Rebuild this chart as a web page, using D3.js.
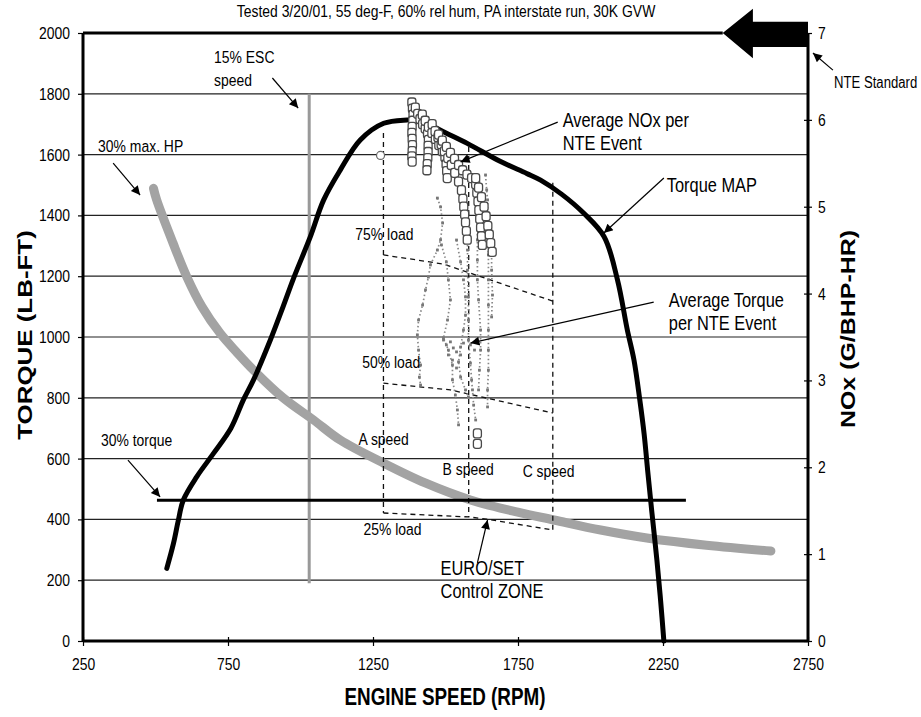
<!DOCTYPE html>
<html>
<head>
<meta charset="utf-8">
<script src="https://cdn.jsdelivr.net/npm/d3@7"></script>
<style>
  body { margin: 0; background: #fff; }
  svg { display: block; }
</style>
</head>
<body>
<div id="chart"></div>
<script>
// axis ticks
var rpmTicks = [250, 750, 1250, 1750, 2250, 2750];
var torqueTicks = [0, 200, 400, 600, 800, 1000, 1200, 1400, 1600, 1800, 2000];
var noxTicks = [0, 1, 2, 3, 4, 5, 6, 7];
var gridTicks = [200, 400, 600, 800, 1000, 1200, 1400, 1600, 1800];

// torque map [rpm, lb-ft]
var torqueMap = [[539,239],[562,321],[579,398],[596,464],[642,540],[700,617],[760,700],[803,793],
  [838,859],[896,990],[940,1100],[976,1193],[1034,1330],[1080,1451],[1137,1549],[1206,1648],
  [1287,1703],[1368,1714],[1402,1714],[1436,1703],[1500,1672],[1575,1637],[1690,1577],[1780,1538],
  [1828,1516],[1900,1470],[1977,1407],[2047,1330],[2093,1188],[2127,1023],[2150,924],[2170,793],
  [2185,680],[2197,562],[2212,420],[2229,266],[2242,130],[2253,0]];

// 30% max HP curve [rpm, lb-ft]
var hp30 = [[493,1489],[504,1451],[560,1310],[608,1198],[660,1100],[723,1012],[780,950],[838,891],
  [940,800],[1045,727],[1137,661],[1287,585],[1430,520],[1586,464],[1730,428],[1874,398],
  [2035,365],[2200,338],[2400,315],[2622,296]];

// reference lines
var escSpeed = 1030, escTorque = [190, 1800];
var torque30 = 463, torque30Rpm = [505, 2329];
var speeds = [1286, 1580, 1870];          // A, B, C speed
var speedTop = [1671, 1625, 1507];
var speedBottom = [421, 408, 365];
var load75 = [[1286,1270],[1493,1240],[1870,1118]];
var load50 = [[1286,848],[1517,826],[1642,799],[1870,750]];
var load25 = [[1286,421],[1580,408],[1642,401],[1870,365]];

// average NOx per NTE event [rpm, g/bhp-hr]
var noxS1 = [[1384,6.20],[1386,6.13],[1388,6.06],[1387,5.99],[1385,5.92],[1384,5.85],[1385,5.78],[1386,5.71],[1385,5.64],[1384,5.58],[1385,5.52]];
var noxS2 = [[1396,6.14],[1404,6.07],[1412,6.01],[1421,5.95],[1430,5.90],[1438,5.84],[1441,5.77],[1440,5.70],[1440,5.63],[1439,5.56],[1437,5.49],[1436,5.42]];
var noxS3 = [[1420,6.06],[1430,5.99],[1441,5.92],[1453,5.85],[1465,5.78],[1477,5.71],[1489,5.64],[1498,5.57],[1502,5.49],[1504,5.41],[1506,5.33]];
var noxS4 = [[1454,5.95],[1464,5.87],[1474,5.80],[1485,5.72],[1496,5.64],[1508,5.56],[1520,5.48],[1532,5.39],[1545,5.29],[1555,5.19],[1560,5.09],[1563,5.00],[1566,4.91],[1569,4.82],[1572,4.72],[1575,4.62]];
var noxS5 = [[1476,5.83],[1489,5.76],[1503,5.69],[1517,5.62],[1531,5.55],[1545,5.48],[1559,5.42],[1574,5.37],[1590,5.33],[1604,5.26],[1608,5.16],[1612,5.06],[1615,4.96],[1618,4.86],[1621,4.76],[1624,4.66],[1627,4.56]];
var noxS6 = [[1604,5.33],[1614,5.22],[1624,5.11],[1633,5.00],[1640,4.89],[1646,4.78],[1651,4.68],[1656,4.58],[1661,4.48]];
var noxLow = [[1610,2.39],[1610,2.27]];
var noxCircle = [[1276,5.59]];

// average torque per NTE event [rpm, lb-ft]
var tq1 = [[1472,1457],[1483,1428],[1490,1375],[1483,1320],[1472,1286],[1448,1237],[1441,1197],[1431,1155],[1421,1105],[1407,1056],[1403,1007],[1407,957],[1414,908],[1410,868],[1414,842]];
var tq2 = [[1486,1303],[1503,1247],[1510,1188],[1517,1122],[1507,1056],[1493,997],[1510,957],[1524,908],[1524,859],[1534,809],[1541,760],[1545,711]];
var tq3 = [[1538,1319],[1552,1247],[1562,1188],[1569,1132],[1569,1072],[1562,1023],[1552,967],[1545,918],[1552,868],[1569,826],[1579,803]];
var tq4 = [[1576,1342],[1576,1286],[1576,1220],[1579,1132],[1579,1056],[1579,990],[1586,914],[1590,859],[1593,826],[1597,776],[1604,727]];
var tq5 = [[1610,1378],[1610,1319],[1610,1253],[1610,1188],[1614,1122],[1621,1023],[1621,957],[1617,891],[1614,826]];
var tq6 = [[1638,1533],[1642,1484],[1645,1451],[1645,1352],[1648,1270],[1648,1188],[1648,1105],[1648,1023],[1648,957],[1648,891],[1645,826],[1645,770]];
var tq7 = [[1659,1286],[1659,1220],[1662,1138],[1659,1066]];
var tq8 = [[1493,990],[1503,974],[1517,984],[1527,964],[1538,951],[1510,941],[1524,924],[1538,898],[1552,941],[1562,980],[1586,974],[1600,957],[1607,990]];

var W = 921, H = 717;
var FONT = "'Liberation Sans',Arial,sans-serif";

var svg = d3.select('#chart').append('svg').attr('width', W).attr('height', H);

var x = d3.scaleLinear().domain([250, 2750]).range([83, 808]);
var yT = d3.scaleLinear().domain([0, 2000]).range([641, 33]);
var yN = d3.scaleLinear().domain([0, 7]).range([641, 33]);

// squeeze text sideways, the scan is narrow
function narrow(sel) {
  sel.each(function() {
    var t = d3.select(this);
    var tx = +t.attr('x') || 0, ty = +t.attr('y') || 0;
    t.attr('x', null).attr('y', null)
      .attr('transform', 'translate(' + tx + ',' + ty + ') scale(0.82,1)');
  });
}

var defs = svg.append('defs');
defs.append('marker').attr('id', 'ah')
  .attr('viewBox', '0 0 10 10').attr('refX', 10).attr('refY', 5)
  .attr('markerWidth', 12).attr('markerHeight', 9)
  .attr('markerUnits', 'userSpaceOnUse').attr('orient', 'auto')
  .append('path').attr('d', 'M0,0L10,5L0,10z').attr('fill', '#000');

// gridlines
svg.append('g').selectAll('line').data(gridTicks).enter().append('line')
  .attr('x1', x(250)).attr('x2', x(2750))
  .attr('y1', function(d) { return yT(d); }).attr('y2', function(d) { return yT(d); })
  .attr('stroke', '#222').attr('stroke-width', 1.2);

var lineT = d3.line().x(function(d) { return x(d[0]); }).y(function(d) { return yT(d[1]); });
var smoothT = d3.line().curve(d3.curveCatmullRom).x(function(d) { return x(d[0]); }).y(function(d) { return yT(d[1]); });

// 15% ESC speed
svg.append('line').attr('x1', x(escSpeed)).attr('x2', x(escSpeed))
  .attr('y1', yT(escTorque[0])).attr('y2', yT(escTorque[1]))
  .attr('stroke', '#999').attr('stroke-width', 3);

// 30% max HP
svg.append('path').attr('d', smoothT(hp30))
  .attr('fill', 'none').attr('stroke', '#a3a3a3').attr('stroke-width', 9).attr('stroke-linecap', 'round');

// NTE zone dashed lines
var zone = svg.append('g').attr('fill', 'none').attr('stroke', '#111')
  .attr('stroke-width', 1.3).attr('stroke-dasharray', '5,4');
speeds.forEach(function(s, i) {
  zone.append('line').attr('x1', x(s)).attr('x2', x(s))
    .attr('y1', yT(speedTop[i])).attr('y2', yT(speedBottom[i]));
});
[load75, load50, load25].forEach(function(l) { zone.append('path').attr('d', lineT(l)); });

// 30% torque
svg.append('line').attr('x1', x(torque30Rpm[0])).attr('x2', x(torque30Rpm[1]))
  .attr('y1', yT(torque30)).attr('y2', yT(torque30))
  .attr('stroke', '#000').attr('stroke-width', 3);

// torque map
svg.append('path').attr('d', smoothT(torqueMap))
  .attr('fill', 'none').attr('stroke', '#000').attr('stroke-width', 5).attr('stroke-linecap', 'round');

// average torque tracks (small grey dots)
var tracks = [tq1, tq2, tq3, tq4, tq5, tq6, tq7];
var tg = svg.append('g');
tracks.forEach(function(t) {
  tg.append('path').attr('d', lineT(t)).attr('fill', 'none')
    .attr('stroke', '#888').attr('stroke-width', 1.7).attr('stroke-dasharray', '1.5,2.5');
});
tg.selectAll('rect').data(d3.merge(tracks.concat([tq8]))).enter().append('rect')
  .attr('x', function(d) { return x(d[0]) - 1.4; }).attr('y', function(d) { return yT(d[1]) - 1.4; })
  .attr('width', 2.8).attr('height', 2.8).attr('fill', '#777');

// average NOx squares
var noxAll = d3.merge([noxS1, noxS2, noxS3, noxS4, noxS5, noxS6, noxLow]);
svg.append('g').selectAll('rect').data(noxAll).enter().append('rect')
  .attr('x', function(d) { return x(d[0]) - 4; }).attr('y', function(d) { return yN(d[1]) - 4.5; })
  .attr('width', 8).attr('height', 9).attr('rx', 2.5)
  .attr('fill', '#fff').attr('stroke', '#4a4a4a').attr('stroke-width', 1.3);
svg.append('g').selectAll('circle').data(noxCircle).enter().append('circle')
  .attr('cx', function(d) { return x(d[0]); }).attr('cy', function(d) { return yN(d[1]); })
  .attr('r', 4).attr('fill', '#fff').attr('stroke', '#666').attr('stroke-width', 1.2);

// NTE standard block arrow [rpm, nox]
var nteArrow = [[2456,7.0],[2560,7.28],[2560,7.13],[2750,7.13],[2750,6.84],[2560,6.84],[2560,6.71]];
svg.append('path').attr('d', d3.line().x(function(d) { return x(d[0]); }).y(function(d) { return yN(d[1]); })(nteArrow) + 'Z')
  .attr('fill', '#000');

// axes lines
svg.append('line').attr('x1', x(250)).attr('x2', x(2456)).attr('y1', yT(2000)).attr('y2', yT(2000))
  .attr('stroke', '#000').attr('stroke-width', 3);
svg.append('line').attr('x1', x(250)).attr('x2', x(2750)).attr('y1', yT(0)).attr('y2', yT(0))
  .attr('stroke', '#000').attr('stroke-width', 3);
svg.append('line').attr('x1', x(250)).attr('x2', x(250)).attr('y1', yT(2000)).attr('y2', yT(0))
  .attr('stroke', '#000').attr('stroke-width', 3);
svg.append('line').attr('x1', x(2750)).attr('x2', x(2750)).attr('y1', yT(2000)).attr('y2', yT(0))
  .attr('stroke', '#000').attr('stroke-width', 3);

var fmt = d3.format('d');
var gl = svg.append('g').attr('transform', 'translate(' + x(250) + ',0)')
  .call(d3.axisLeft(yT).tickValues(torqueTicks).tickFormat(fmt).tickSize(5).tickPadding(8));
var gb = svg.append('g').attr('transform', 'translate(0,' + yT(0) + ')')
  .call(d3.axisBottom(x).tickValues(rpmTicks).tickFormat(fmt).tickSize(5).tickPadding(12));
var gr = svg.append('g').attr('transform', 'translate(' + x(2750) + ',0)')
  .call(d3.axisRight(yN).tickValues(noxTicks).tickFormat(fmt).tickSize(4).tickPadding(6));
gb.selectAll('.tick line').attr('y1', -4);
gr.selectAll('.tick line').attr('x1', -4);
[gl, gb, gr].forEach(function(g) {
  g.select('.domain').remove();
  g.selectAll('.tick line').attr('stroke', '#000').attr('stroke-width', 1.2);
  g.selectAll('text').attr('font-family', FONT).attr('font-size', 17).attr('fill', '#000').call(narrow);
});

// titles
svg.append('text').attr('x', 446).attr('y', 17).attr('text-anchor', 'middle')
  .attr('font-family', FONT).attr('font-size', 17)
  .text('Tested 3/20/01, 55 deg-F, 60% rel hum, PA interstate run, 30K GVW').call(narrow);
svg.append('text').attr('x', 445).attr('y', 705).attr('text-anchor', 'middle')
  .attr('font-family', FONT).attr('font-weight', 'bold').attr('font-size', 23)
  .text('ENGINE SPEED (RPM)').call(narrow);
svg.append('text').attr('transform', 'translate(32,335) rotate(-90) scale(1.08,0.85)').attr('text-anchor', 'middle')
  .attr('font-family', FONT).attr('font-weight', 'bold').attr('font-size', 24)
  .text('TORQUE (LB-FT)');
svg.append('text').attr('transform', 'translate(855,329) rotate(-90) scale(1.04,0.85)').attr('text-anchor', 'middle')
  .attr('font-family', FONT).attr('font-weight', 'bold').attr('font-size', 24)
  .text('NOx (G/BHP-HR)');

// annotation labels [text, rpm, lb-ft, size]
var notes = [
  ['15% ESC', 702, 1901, 17], ['speed', 702, 1826, 17], ['30% max. HP', 302, 1609, 17],
  ['30% torque', 312, 641, 17], ['75% load', 1189, 1319, 17], ['50% load', 1213, 898, 17],
  ['A speed', 1200, 645, 17], ['B speed', 1490, 546, 17], ['C speed', 1766, 539, 17],
  ['25% load', 1217, 349, 17], ['EURO/SET', 1483, 217, 20], ['Control ZONE', 1483, 141, 20],
  ['Average NOx per', 1904, 1691, 20], ['NTE Event', 1904, 1615, 20], ['Torque MAP', 2263, 1477, 20],
  ['Average Torque', 2270, 1099, 20], ['per NTE Event', 2270, 1023, 20], ['NTE Standard', 2840, 1819, 16]
];
svg.append('g').selectAll('text').data(notes).enter().append('text')
  .attr('x', function(d) { return x(d[1]); }).attr('y', function(d) { return yT(d[2]); })
  .attr('font-family', FONT).attr('font-size', function(d) { return d[3]; })
  .text(function(d) { return d[0]; }).call(narrow);

// annotation arrows [from rpm, from lb-ft, to rpm, to lb-ft]
var pointers = [[903,1852,992,1753],[354,1572,447,1467],[405,595,516,474],[1887,1707,1552,1576],
  [2253,1523,2046,1342],[2218,1115,1586,980],[1610,257,1645,398],[2836,1878,2767,1934]];
svg.append('g').selectAll('line').data(pointers).enter().append('line')
  .attr('x1', function(d) { return x(d[0]); }).attr('y1', function(d) { return yT(d[1]); })
  .attr('x2', function(d) { return x(d[2]); }).attr('y2', function(d) { return yT(d[3]); })
  .attr('stroke', '#000').attr('stroke-width', 1.2).attr('marker-end', 'url(#ah)');
</script>
</body>
</html>
